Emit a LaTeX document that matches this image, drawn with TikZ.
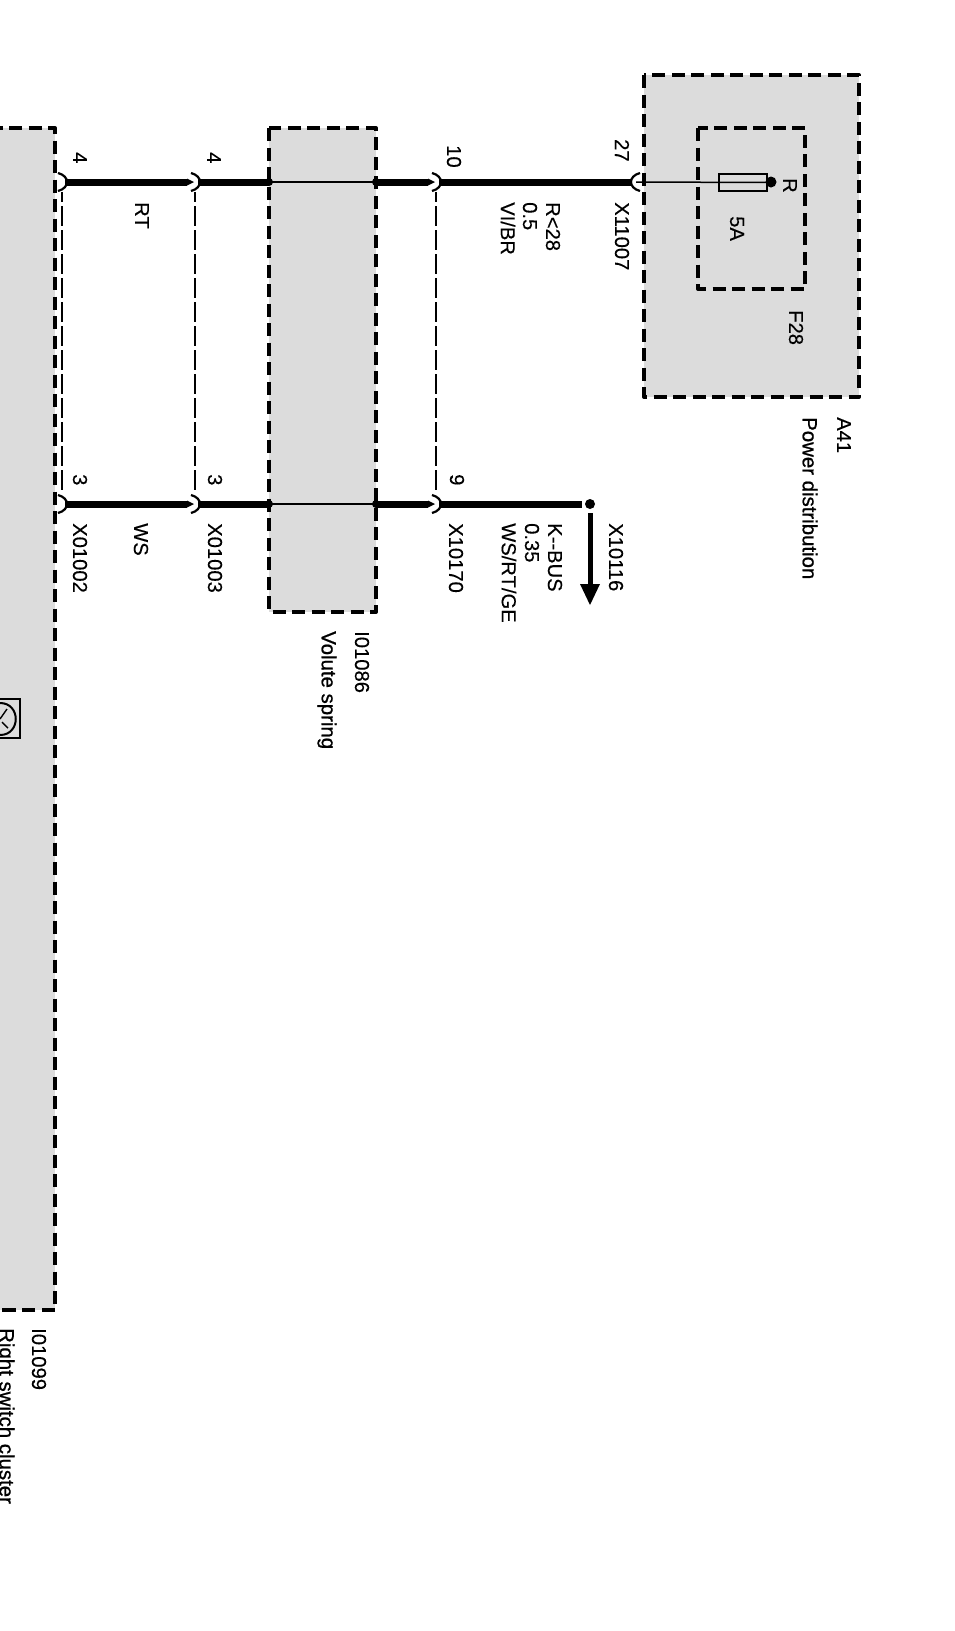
\documentclass[tikz,border=0pt]{standalone}
\usepackage{fontspec}
\setmainfont[FakeBold=0.25]{Liberation Sans}
\newfontfamily\semibold[FakeBold=0.9]{Liberation Sans}
\definecolor{panel}{HTML}{DCDCDC}
\tikzset{
  x=1pt,y=-1pt,
  lbl/.style={rotate=-90,anchor=west,inner sep=0pt,font=\fontsize{20.2}{20}\selectfont},
  lblb/.style={rotate=-90,anchor=west,inner sep=0pt,font=\semibold\fontsize{20.4}{20}\selectfont},
  boxa/.style={draw=black,fill=panel,line width=4pt,dash pattern=on 13pt off 6.5pt,line join=round},
  wirethick/.style={line width=7pt},
  wirethin/.style={line width=1.5pt},
  linkdash/.style={line width=1.3pt,dash pattern=on 20pt off 4pt},
}
% cup opening left; wire continues on the right
\newcommand{\cupmark}[2]{\fill[white] (#1-5,#2-10) rectangle (#1+3,#2+10);
  \draw[line width=2.2pt] (#1-4,#2-9) .. controls (#1+8,#2-6) and (#1+8,#2+6) .. (#1-4,#2+9);}
% same, with the left wire tapering into the cup
\newcommand{\cuptaper}[2]{\fill[white] (#1-8,#2-10) rectangle (#1+3,#2+10);
  \fill (#1-8,#2-3.5) -- (#1-1,#2) -- (#1-8,#2+3.5) -- cycle;
  \draw[line width=2.2pt] (#1-4,#2-9) .. controls (#1+8,#2-6) and (#1+8,#2+6) .. (#1-4,#2+9);}
% cup opening right
\newcommand{\cupmirror}[2]{\fill[white] (#1-3,#2-10) rectangle (#1+4,#2-3.5);
  \fill[white] (#1-3,#2+3.5) rectangle (#1+4,#2+10);
  \draw[line width=2.2pt] (#1+4,#2-9) .. controls (#1-8,#2-6) and (#1-8,#2+6) .. (#1+4,#2+9);}
\begin{document}
\begin{tikzpicture}
\useasboundingbox (0,0) rectangle (955,1631);
\fill[white] (0,0) rectangle (955,1631);
% panels
\draw[boxa] (644,75) rectangle (859,397);
\draw[boxa] (698,128) rectangle (805,289);
\draw[boxa] (269,128) rectangle (376,612);
\draw[boxa] (-30,128) -- (55,128) -- (55,1310) -- (-30,1310);
% named anchors
\coordinate (a1) at (62,182); \coordinate (a2) at (195,182); \coordinate (a3) at (269,182);
\coordinate (a4) at (376,182); \coordinate (a5) at (436,182); \coordinate (a6) at (632,182);
\coordinate (a7) at (636,182);
\coordinate (b1) at (62,504); \coordinate (b2) at (195,504); \coordinate (b3) at (269,504);
\coordinate (b4) at (376,504); \coordinate (b5) at (436,504); \coordinate (b6) at (582,504);
\coordinate (dot) at (590,504);
% dashed links
\draw[linkdash] (a1) -- (b1);
\draw[linkdash] (a2) -- (b2);
\draw[linkdash] (a5) -- (b5);
% wires
\draw[wirethick] (a1) -- (a3);
\draw[wirethin] (a3) -- (a4);
\draw[wirethick] (a4) -- (a6);
\draw[wirethick] (b1) -- (b3);
\draw[wirethin] (b3) -- (b4);
\draw[wirethick] (b4) -- (b6);
\fill (269,182) circle (4); \fill (376,182) circle (4);
\fill (269,504) circle (4); \fill (376,504) circle (4);
\cupmark{62}{182}\cuptaper{195}{182}\cuptaper{436}{182}
\cupmark{62}{504}\cuptaper{195}{504}\cuptaper{436}{504}
\cupmirror{636}{182}
% fuse
\node[draw,line width=2pt,minimum width=48pt,minimum height=17pt,inner sep=0pt,anchor=center] (fuse) at (743,182.5) {};
\draw[line width=1.5pt] (a7) -- (fuse.east);
\fill (771,182) circle (5.5);
% end dot and arrow
\fill (dot) circle (5);
\coordinate (arrS) at (590,513);
\coordinate (arrB) at (590,584);
\coordinate (arrT) at (590,605);
\draw[line width=5pt] (arrS) -- (arrB);
\fill (580,584) -- (600,584) -- (arrT) -- cycle;
% icon
\draw[line width=1.8pt,fill=panel] (-5,699) rectangle (20,738);
\draw[line width=2pt] (0,703) .. controls (21,703) and (21,735) .. (0,735);
\draw[line width=1.4pt] (7,709) -- (0,719);
\draw[line width=1.4pt] (8,728) -- (2,722);
% labels
\node[lbl] at (622,139) {27};
\node[lbl] at (622,202) {X11007};
\node[lbl] at (790,178) {R};
\node[lbl] at (737,216) {5A};
\node[lbl] at (796,310) {F28};
\node[lbl] at (844,417) {A41};
\node[lblb] at (810,417) {Power distribution};
\node[lbl] at (80,152) {4};
\node[lbl] at (214,152) {4};
\node[lbl] at (454,145) {10};
\node[lbl] at (142,202) {RT};
\node[lbl] at (553,202) {R<28};
\node[lbl] at (530,202) {0.5};
\node[lbl] at (508,202) {VI/BR};
\node[lbl] at (80,474) {3};
\node[lbl] at (215,474) {3};
\node[lbl] at (457,474) {9};
\node[lbl] at (80,523) {X01002};
\node[lbl] at (141,523) {WS};
\node[lbl] at (215,523) {X01003};
\node[lbl] at (456,523) {X10170};
\node[lbl] at (555,523) {K{-}{-}BUS};
\node[lbl] at (532,523) {0.35};
\node[lbl] at (509,523) {WS/RT/GE};
\node[lbl] at (616,523) {X10116};
\node[lbl] at (362,631) {I01086};
\node[lblb] at (327,631) {Volute spring};
\node[lbl] at (39,1328) {I01099};
\node[lblb] at (5,1328) {Right switch cluster};
\end{tikzpicture}
\end{document}
